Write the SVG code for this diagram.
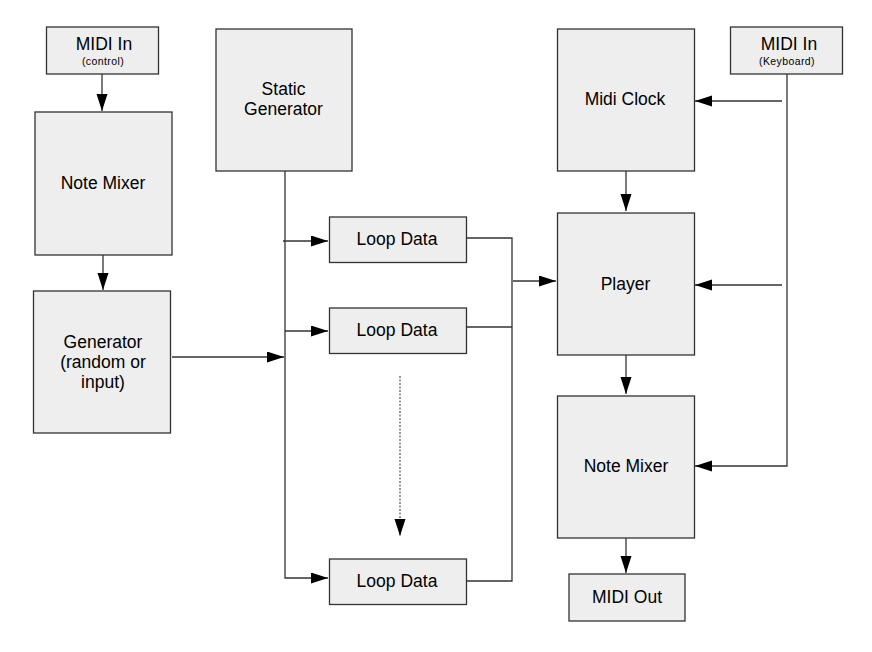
<svg xmlns="http://www.w3.org/2000/svg" width="872" height="652" viewBox="0 0 872 652">
<style>
.box{fill:#eeeeee;stroke:#333333;stroke-width:1.3}
.t{font-family:"Liberation Sans",Arial,sans-serif;font-size:17.5px;fill:#000;text-anchor:middle}
.s{font-family:"Liberation Sans",Arial,sans-serif;font-size:10.5px;fill:#000;text-anchor:middle;letter-spacing:0.4px}
.c{fill:none;stroke:#333333;stroke-width:1.3}
.a{marker-end:url(#ah)}
.d{fill:none;stroke:#777777;stroke-width:1.5;stroke-dasharray:2,1.5;marker-end:url(#ah)}
</style>
<defs>
<marker id="ah" markerUnits="userSpaceOnUse" markerWidth="17" markerHeight="12" refX="17" refY="5.5" orient="auto">
<path d="M0,0 L17,5.5 L0,11 z" fill="#000"/>
</marker>
</defs>
<rect width="872" height="652" fill="#ffffff"/>
<g id="connectors">
<path class="c a" d="M102,74 V111"/>
<path class="c a" d="M103,255 V290"/>
<path class="c a" d="M172,357 H284"/>
<path class="c a" d="M285,171 V578 H328"/>
<path class="c a" d="M283,241 H328"/>
<path class="c a" d="M285,331 H328"/>
<path class="c" d="M467,238 H512 V581 H467"/>
<path class="c" d="M467,327 H512"/>
<path class="c a" d="M513,281 H556"/>
<path class="d" d="M400,376 V536"/>
<path class="c a" d="M787,74 V466 H695"/>
<path class="c a" d="M782,101 H695"/>
<path class="c a" d="M782,285 H695"/>
<path class="c a" d="M626,171 V211"/>
<path class="c a" d="M626,355 V394"/>
<path class="c a" d="M626,538 V573"/>
</g>
<g id="midi-in-control">
<rect class="box" x="46.5" y="27" width="112" height="47"/>
<text class="t" x="104" y="49.5">MIDI In</text>
<text class="s" x="103" y="65">(control)</text>
</g>
<g id="note-mixer-left">
<rect class="box" x="35" y="112" width="137" height="143"/>
<text class="t" x="103" y="189">Note Mixer</text>
</g>
<g id="generator">
<rect class="box" x="33.5" y="291" width="137" height="142"/>
<text class="t" x="103" y="348">Generator</text>
<text class="t" x="103" y="368">(random or</text>
<text class="t" x="103" y="388">input)</text>
</g>
<g id="static-generator">
<rect class="box" x="216" y="29" width="136" height="142"/>
<text class="t" x="283.5" y="95">Static</text>
<text class="t" x="283.5" y="115">Generator</text>
</g>
<g id="loop-data-1">
<rect class="box" x="329.5" y="217" width="137" height="45.5"/>
<text class="t" x="397" y="245">Loop Data</text>
</g>
<g id="loop-data-2">
<rect class="box" x="329.5" y="308" width="137" height="45.5"/>
<text class="t" x="397" y="336">Loop Data</text>
</g>
<g id="loop-data-3">
<rect class="box" x="329.5" y="559" width="137" height="45.5"/>
<text class="t" x="397" y="587">Loop Data</text>
</g>
<g id="midi-clock">
<rect class="box" x="557.5" y="29" width="137" height="142"/>
<text class="t" x="625" y="105">Midi Clock</text>
</g>
<g id="midi-in-keyboard">
<rect class="box" x="730.5" y="27" width="112" height="47"/>
<text class="t" x="789" y="50">MIDI In</text>
<text class="s" x="787" y="64.5">(Keyboard)</text>
</g>
<g id="player">
<rect class="box" x="557.5" y="213" width="137" height="142"/>
<text class="t" x="625.5" y="290">Player</text>
</g>
<g id="note-mixer-right">
<rect class="box" x="557.5" y="396" width="137" height="142"/>
<text class="t" x="626" y="472">Note Mixer</text>
</g>
<g id="midi-out">
<rect class="box" x="569" y="574" width="116" height="47"/>
<text class="t" x="627" y="603">MIDI Out</text>
</g>
</svg>
